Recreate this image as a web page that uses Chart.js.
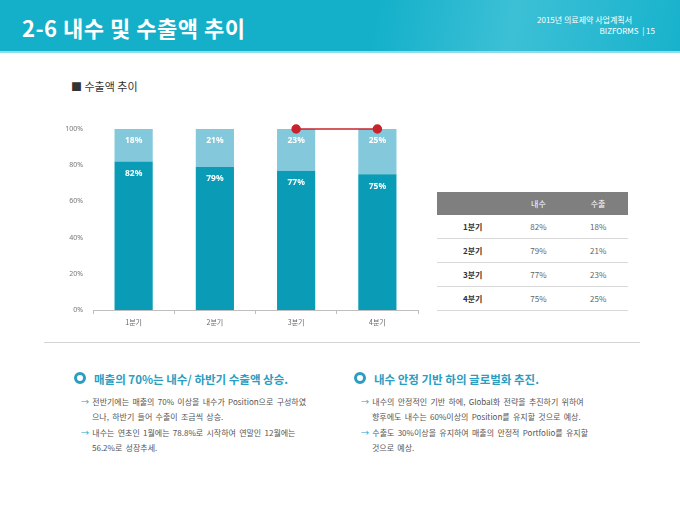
<!DOCTYPE html>
<html><head><meta charset="utf-8">
<script src="https://cdn.jsdelivr.net/npm/chart.js@4.4.0/dist/chart.umd.min.js"></script>
<style>
html,body{margin:0;padding:0;background:#fff;}
body{width:680px;height:510px;position:relative;overflow:hidden;font-family:"Noto Sans CJK KR","Noto Sans",sans-serif;}
#hdr{position:absolute;left:0;top:0;width:680px;height:51px;background:linear-gradient(100deg,#14b0ca 0%,#14b0ca 55%,#3cc0d6 75%,#18b2cc 100%);border-bottom:2px solid #8fdde9;}
#title{position:absolute;left:22px;top:11px;color:#fff;font-size:22px;font-weight:bold;letter-spacing:0.5px;}
#sub1{position:absolute;right:48px;top:14px;color:#fff;font-size:8px;}
#sub2{position:absolute;right:25px;top:25px;color:#fff;font-size:8px;}
#sect{position:absolute;left:71px;top:78px;font-size:11px;color:#333;}
#cv{position:absolute;left:50px;top:115px;}
table{position:absolute;left:437px;top:192px;width:191px;border-collapse:collapse;font-size:8px;}
th{background:#7f7f7f;color:#fff;font-weight:normal;height:23px;padding:0;}
td{height:23px;text-align:center;color:#666;border-bottom:1px solid #d9d9d9;padding:0;}
td.l{color:#333;font-weight:bold;}
#sep{position:absolute;left:44px;top:342px;width:596px;height:1px;background:#d4d4d4;}
.h{position:absolute;font-size:11.5px;color:#2b9dc2;font-weight:bold;}
.ring{position:absolute;width:6px;height:6px;border:3px solid #2b9dc2;border-radius:50%;}
.b{position:absolute;font-size:8px;color:#555;line-height:15px;white-space:nowrap;word-spacing:1.5px;}
.b p{margin:0 0 1px 0;padding-left:11px;text-indent:-11px;}
.b span{color:#2b9dc2;}
</style></head><body>
<div id="hdr"></div>
<div id="title">2-6 내수 및 수출액 추이</div>
<div id="sub1">2015년 의료제약 사업계획서</div>
<div id="sub2">BIZFORMS &nbsp;| 15</div>
<div id="sect">■ 수출액 추이</div>
<canvas id="cv" width="380" height="225" style="width:380px;height:225px"></canvas>
<table id="tbl"></table>
<div id="sep"></div>
<div class="ring" style="left:74px;top:372px"></div>
<div class="h" style="left:94px;top:371px">매출의 70%는 내수/ 하반기 수출액 상승.</div>
<div class="b" style="left:81px;top:394px">
<p><span>→</span> 전반기에는 매출의 70% 이상을 내수가 Position으로 구성하였<br>으나, 하반기 들어 수출이 조금씩 상승.</p>
<p><span>→</span> 내수는 연초인 1월에는 78.8%로 시작하여 연말인 12월에는<br>56.2%로 성장추세.</p>
</div>
<div class="ring" style="left:354px;top:372px"></div>
<div class="h" style="left:374px;top:371px">내수 안정 기반 하의 글로벌화 추진.</div>
<div class="b" style="left:361px;top:394px">
<p><span>→</span> 내수의 안정적인 기반 하에, Global화 전략을 추진하기 위하여<br>향후에도 내수는 60%이상의 Position를 유지할 것으로 예상.</p>
<p><span>→</span> 수출도 30%이상을 유지하여 매출의 안정적 Portfolio를 유지할<br>것으로 예상.</p>
</div>
<script>
const categories = ['1분기','2분기','3분기','4분기'];
const domestic = [82,79,77,75];
const exportVals = [18,21,23,25];
const markerLine = [null,null,100,100];
const yTicks = [0,20,40,60,80,100];
const tableHeaders = ['','내수','수출'];

// table
const tbl = document.getElementById('tbl');
let html = '<tr>' + tableHeaders.map(h=>'<th>'+h+'</th>').join('') + '</tr>';
categories.forEach((c,i)=>{
  html += '<tr><td class="l">'+c+'</td><td>'+domestic[i]+'%</td><td>'+exportVals[i]+'%</td></tr>';
});
tbl.innerHTML = html;

const labelPlugin = {
  id:'segLabels',
  afterDatasetsDraw(chart){
    const ctx = chart.ctx;
    ctx.save();
    ctx.fillStyle = '#fff';
    ctx.font = 'bold 8.5px "Noto Sans", sans-serif';
    ctx.textAlign = 'center';
    ctx.textBaseline = 'middle';
    chart.data.datasets.forEach((ds,di)=>{
      if (ds.type !== 'bar') return;
      const meta = chart.getDatasetMeta(di);
      meta.data.forEach((el,i)=>{
        ctx.fillText(ds.data[i]+'%', el.x, el.y + 12);
      });
    });
    ctx.restore();
  }
};

new Chart(document.getElementById('cv'), {
  data:{
    labels:categories,
    datasets:[
      {type:'line',label:'line',data:markerLine,borderColor:'#c8232c',backgroundColor:'#c8232c',borderWidth:1.5,pointRadius:4,pointHoverRadius:4,order:0,clip:false,spanGaps:false},
      {type:'bar',label:'내수',data:domestic,backgroundColor:'#0a9cb6',barPercentage:0.47,categoryPercentage:1,stack:'s',order:2},
      {type:'bar',label:'수출',data:exportVals,backgroundColor:'#84c8dc',barPercentage:0.47,categoryPercentage:1,stack:'s',order:2}
    ]
  },
  options:{
    responsive:false,animation:false,
    layout:{padding:{top:14,right:12,left:0,bottom:0}},
    plugins:{legend:{display:false},tooltip:{enabled:false}},
    scales:{
      x:{stacked:true,
         grid:{display:true,drawOnChartArea:false,drawTicks:true,tickLength:4,color:'#bfbfbf',offset:true},
         border:{display:true,color:'#bfbfbf'},
         ticks:{color:'#666',font:{size:7,family:'"Noto Sans CJK KR", sans-serif'},padding:4},
         afterFit(s){s.height=30;}},
      y:{stacked:true,min:0,max:100,
         afterBuildTicks(s){s.ticks = yTicks.map(v=>({value:v}));},
         grid:{display:false},
         border:{display:false},
         ticks:{color:'#777',font:{size:7,family:'"Noto Sans", sans-serif'},padding:2,callback:v=>v+'%'},
         afterFit(s){s.width=43;}}
    }
  },
  plugins:[labelPlugin]
});
</script>
</body></html>
